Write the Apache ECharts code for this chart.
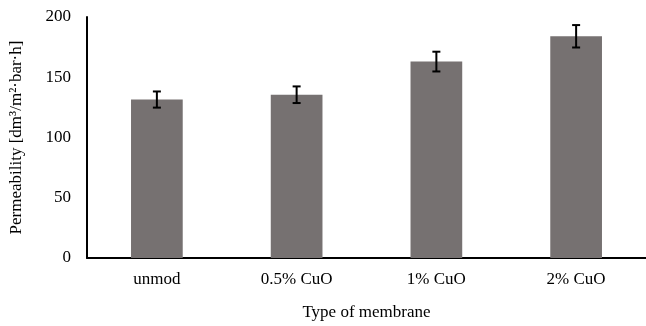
<!DOCTYPE html>
<html><head><meta charset="utf-8">
<script src="https://cdn.jsdelivr.net/npm/echarts@6/dist/echarts.min.js"></script>
<style>html,body{margin:0;padding:0;background:#fff;overflow:hidden}#c{width:646px;height:326px}</style>
</head><body><div id="c"></div>
<script>
const categories = ['unmod', '0.5% CuO', '1% CuO', '2% CuO'];
const values = [131.5, 135.5, 163, 184];
const errors = [6.7, 6.9, 8.2, 9.3];
const yTicks = [0, 50, 100, 150, 200];

const font = '"Liberation Serif", "Times New Roman", serif';
const chart = echarts.init(document.getElementById('c'));
chart.setOption({
  animation: false,
  grid: { left: 83, right: -2, top: 17, bottom: 60, containLabel: false },
  xAxis: {
    type: 'category', data: categories,
    name: 'Type of membrane', nameLocation: 'middle', nameGap: 46,
    nameTextStyle: { fontFamily: font, fontSize: 17, color: '#000' },
    axisLine: { lineStyle: { color: '#000', width: 2 } },
    axisTick: { show: false },
    axisLabel: { fontFamily: font, fontSize: 17, color: '#000', margin: 13 }
  },
  yAxis: {
    type: 'value', min: yTicks[0], max: yTicks[yTicks.length - 1], interval: 50,
    name: 'Permeability [dm³/m²·bar·h]', nameLocation: 'middle', nameGap: 62,
    nameTextStyle: { fontFamily: font, fontSize: 17, color: '#000' },
    axisLine: { show: true, lineStyle: { color: '#000', width: 2 } },
    axisTick: { show: false },
    splitLine: { show: false },
    axisLabel: { fontFamily: font, fontSize: 17, color: '#000', margin: 16 }
  },
  series: [
    {
      type: 'bar', data: values, barWidth: '37%',
      itemStyle: { color: '#767171' }
    },
    {
      type: 'custom',
      data: values.map((v, i) => [i, v - errors[i], v + errors[i]]),
      renderItem: function (params, api) {
        const x = api.value(0);
        const lo = api.coord([x, api.value(1)]);
        const hi = api.coord([x, api.value(2)]);
        const hw = 4;
        const st = { stroke: '#000', lineWidth: 2 };
        return {
          type: 'group',
          children: [
            { type: 'line', shape: { x1: lo[0], y1: lo[1], x2: hi[0], y2: hi[1] }, style: st },
            { type: 'line', shape: { x1: lo[0] - hw, y1: lo[1], x2: lo[0] + hw, y2: lo[1] }, style: st },
            { type: 'line', shape: { x1: hi[0] - hw, y1: hi[1], x2: hi[0] + hw, y2: hi[1] }, style: st }
          ]
        };
      },
      z: 10
    }
  ]
});
</script></body></html>
